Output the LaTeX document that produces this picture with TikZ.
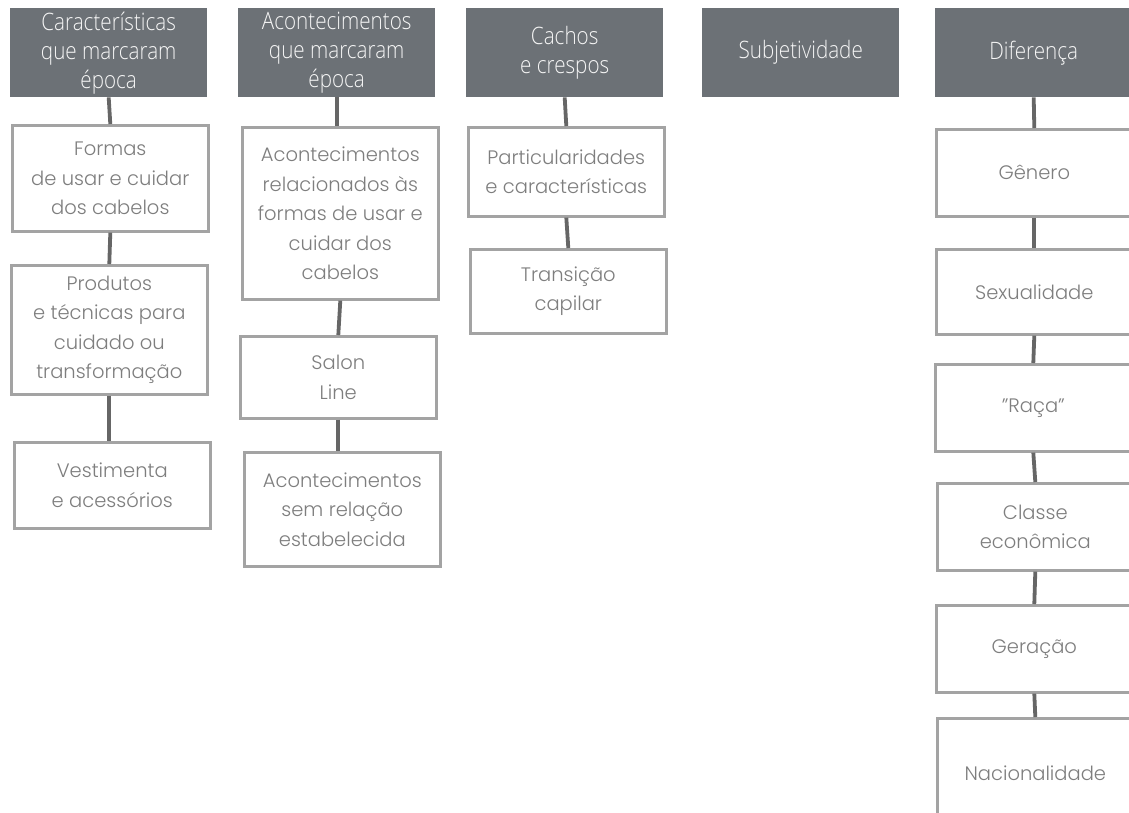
\documentclass[tikz,border=0pt]{standalone}
\usepackage{fontspec}
\setmainfont{Poppins Light}
\newfontfamily\headfont{Open Sans Light}[FakeStretch=0.86]
\usepackage{xcolor}
\usepackage{tikz}
\usetikzlibrary{positioning}

\definecolor{headgray}{HTML}{6C7176}
\definecolor{boxgray}{HTML}{A3A3A3}
\definecolor{textgray}{HTML}{7E7E7E}
\definecolor{linkgray}{HTML}{666666}

\begin{document}
\begin{tikzpicture}[
            x=1pt, y=-1pt,
            head/.style={fill=headgray, text=white!93!gray, anchor=north west, inner sep=0pt, align=center, minimum width=197pt, minimum height=89pt, font=\headfont\fontsize{24}{29}\selectfont},
            box/.style={draw=boxgray, line width=2.6pt, fill=white, text=textgray, anchor=north west, inner sep=0pt, align=center, minimum width=196pt, font=\fontsize{19.5}{29.5}\selectfont},
            link/.style={draw=linkgray, line width=3.8pt},
        ]
            \clip (0,0) rectangle (1129,812);
            \fill[white] (0,0) rectangle (1129,812);

            % ====== Headers ======
            \node[head] (caract) at (10,8) {Características\\que marcaram\\época};
            \node[head] (acont) at (238,8) {Acontecimentos\\que marcaram\\época};
            \node[head] (cachos) at (466,8) {Cachos\\e crespos};
            \node[head] (subj) at (702,8) {Subjetividade};
            \node[head] (difer) at (935,8) {Diferença};

            % ====== First column ======
            \node[box, minimum height=106pt] (formas) at (11,124) {Formas\\de usar e cuidar\\dos cabelos};
            \node[box, minimum height=129pt] (produtos) at (10,264) {Produtos\\e técnicas para\\cuidado ou\\transformação};
            \node[box, minimum height=86pt] (vestim) at (13,441) {Vestimenta\\e acessórios};

            % ====== Second column ======
            \node[box, minimum height=172pt] (acrel) at (241,126) {Acontecimentos\\relacionados às\\formas de usar e\\cuidar dos\\cabelos};
            \node[box, minimum height=82pt] (salon) at (239,335) {Salon\\Line};
            \node[box, minimum height=114pt] (acsem) at (243,451) {Acontecimentos\\sem relação\\estabelecida};

            % ====== Third column ======
            \node[box, minimum height=89pt] (partic) at (467,126) {Particularidades\\e características};
            \node[box, minimum height=84pt] (transic) at (469,248) {Transição\\capilar};

            % ====== Fifth column ======
            \node[box, minimum height=87pt] (genero) at (935,128) {Gênero};
            \node[box, minimum height=85pt] (sexual) at (935,248) {Sexualidade};
            \node[box, minimum height=87pt] (raca) at (934,363) {"Raça"};
            \node[box, minimum height=87pt] (classe) at (936,482) {Classe\\econômica};
            \node[box, minimum height=87pt] (geracao) at (935,604) {Geração};
            \node[box, minimum height=110pt] (nacion) at (936,717) {Nacionalidade};

            % ====== Links ======
            \draw[link] (caract.south) -- (formas.north);
            \draw[link] (formas.south) -- (produtos.north);
            \draw[link] (produtos.south) -- (vestim.north -| produtos.south);
            \draw[link] (acont.south) -- (acrel.north -| acont.south);
            \draw[link] (acrel.south) -- (salon.north);
            \draw[link] (salon.south) -- (acsem.north -| salon.south);
            \draw[link] (cachos.south) -- (partic.north);
            \draw[link] (partic.south) -- (transic.north);
            \draw[link] (difer.south) -- (genero.north);
            \draw[link] (genero.south) -- (sexual.north);
            \draw[link] (sexual.south) -- (raca.north);
            \draw[link] (raca.south) -- (classe.north);
            \draw[link] (classe.south) -- (geracao.north);
            \draw[link] (geracao.south) -- (nacion.north);
        \end{tikzpicture}
\end{document}
